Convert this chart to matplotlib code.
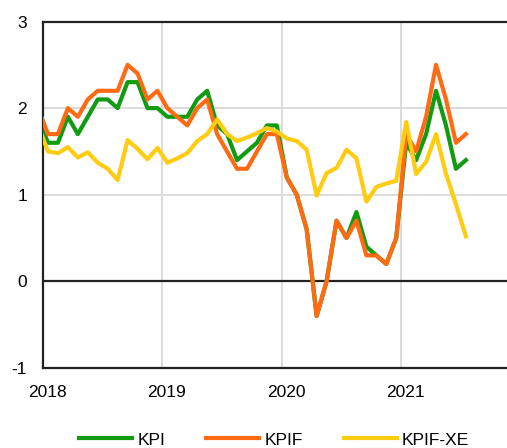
import matplotlib
matplotlib.use('Agg')
import matplotlib.pyplot as plt
import matplotlib.transforms as mtransforms
import numpy as np

plt.rcParams['font.family'] = ['Liberation Sans', 'DejaVu Sans']

# monthly, Dec 2017 .. Jul 2021
start_year = 2017
start_month = 12
kpi = [1.9, 1.6, 1.6, 1.9, 1.7, 1.9, 2.1, 2.1, 2.0, 2.3, 2.3, 2.0,
       2.0, 1.9, 1.9, 1.9, 2.1, 2.2, 1.8, 1.7, 1.4, 1.5, 1.6, 1.8,
       1.8, 1.2, 1.0, 0.6, -0.4, 0.0, 0.7, 0.5, 0.8, 0.4, 0.3, 0.2,
       0.5, 1.6, 1.4, 1.7, 2.2, 1.8, 1.3, 1.4]
kpif = [2.0, 1.7, 1.7, 2.0, 1.9, 2.1, 2.2, 2.2, 2.2, 2.5, 2.4, 2.1,
        2.2, 2.0, 1.9, 1.8, 2.0, 2.1, 1.7, 1.5, 1.3, 1.3, 1.5, 1.7,
        1.7, 1.2, 1.0, 0.6, -0.4, 0.0, 0.7, 0.5, 0.7, 0.3, 0.3, 0.2,
        0.5, 1.7, 1.5, 1.9, 2.5, 2.1, 1.6, 1.7]
kpif_xe = [1.8, 1.5, 1.48, 1.55, 1.43, 1.49, 1.37, 1.3, 1.17, 1.63, 1.53, 1.41,
           1.54, 1.37, 1.42, 1.48, 1.62, 1.7, 1.87, 1.7, 1.62, 1.66, 1.71, 1.77,
           1.73, 1.65, 1.62, 1.52, 0.99, 1.25, 1.31, 1.52, 1.42, 0.92, 1.09, 1.13,
           1.16, 1.84, 1.24, 1.38, 1.70, 1.24, 0.89, 0.52]
years = [2018, 2019, 2020, 2021]
yticks = [-1, 0, 1, 2, 3]

n = len(kpi)
# points placed mid-month
x = np.array([start_year + (start_month - 1 + i + 0.5) / 12 for i in range(n)])

fig = plt.figure(figsize=(5.07, 4.48), dpi=100)
ax = fig.add_axes([0.0848, 0.1786, 0.9152, 0.7734])

ax.plot(x, kpi, color='#109b10', lw=3, label='KPI', zorder=3)
ax.plot(x, kpif, color='#ff6a13', lw=3, label='KPIF', zorder=4)
ax.plot(x, kpif_xe, color='#ffcc12', lw=3, label='KPIF-XE', zorder=5)

ax.axhline(0, color='#222222', lw=1.6, zorder=2)
ax.set_xlim(2018, 2021.886)
ax.set_ylim(-1, 3)
ax.set_xticks(years)
ax.set_xticklabels([str(y) for y in years])
ax.set_yticks(yticks)
ax.set_yticklabels([str(v) for v in yticks])
ax.grid(True, color='#d9d9d9', lw=1.3, zorder=0)
ax.set_axisbelow(True)
ax.tick_params(length=0, labelsize=12.5, colors='black')
ax.tick_params(axis='x', pad=12)
ax.tick_params(axis='y', pad=11.5)

offset = mtransforms.ScaledTranslation(4.5 / 100, 0, fig.dpi_scale_trans)
for lab in ax.get_xticklabels():
    lab.set_transform(lab.get_transform() + offset)

for side in ['left', 'top', 'bottom']:
    ax.spines[side].set_color('#222222')
    ax.spines[side].set_linewidth(1.6)
ax.spines['right'].set_visible(False)

fig.legend(loc='center', bbox_to_anchor=(0.541, 0.018), ncol=3, frameon=False,
           fontsize=12.5, handlelength=3.05, handletextpad=0.3, columnspacing=2.35)

fig.savefig('out.png', dpi=100)
